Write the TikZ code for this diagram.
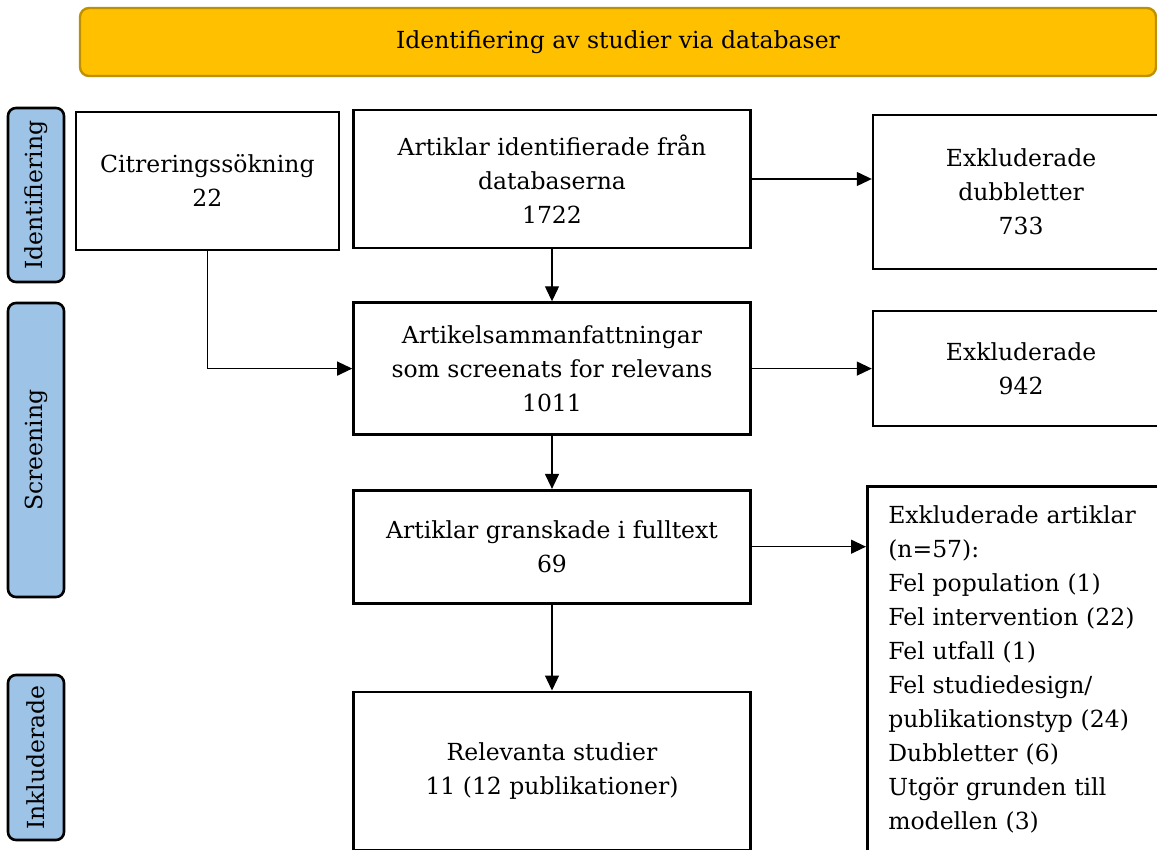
\documentclass[tikz,border=0pt]{standalone}
\usepackage{fontspec}
\setmainfont{DejaVu Serif}
\usetikzlibrary{positioning}
\usetikzlibrary{arrows.meta}
\definecolor{hdrfill}{HTML}{FFC000}
\definecolor{hdrline}{HTML}{BF9000}
\definecolor{phasefill}{HTML}{9DC3E6}

\begin{document}
\begin{tikzpicture}[->,>={Triangle[length=15pt,width=14pt]},x=1pt,y=-1pt,
                    line width=1.2pt,font=\fontsize{23.5}{34}\selectfont,
                    box/.style={draw,-,line width=2.6pt,minimum width=397pt,align=center,inner sep=0pt},
                    phase/.style={draw,-,line width=2.6pt,fill=phasefill,rounded corners=8pt,
                                  rotate=90,minimum height=56pt,inner sep=0pt}]
\useasboundingbox (0,0) rectangle (1157,850);
% header
\node[draw=hdrline,fill=hdrfill,line width=2.4pt,rounded corners=9pt,
      minimum width=1076pt,minimum height=68pt] (hdr) at (618,42)
      {Identifiering av studier via databaser};
% phases on the left
\node[phase,minimum width=174pt] (pid) at (36,195) {Identifiering};
\node[phase,minimum width=294pt] (pscr) at (36,450) {Screening};
\node[phase,minimum width=165pt] (pinc) at (36,757.5) {Inkluderade};
% main column
\node[box,minimum height=138pt] (art) at (552,179) {Artiklar identifierade från\\databaserna\\1722};
\node[box,minimum height=132pt,below=52pt of art] (abs) {Artikelsammanfattningar\\som screenats for relevans\\1011};
\node[box,minimum height=113pt,below=53pt of abs] (full) {Artiklar granskade i fulltext\\69};
\node[box,minimum height=158pt,below=86pt of full] (rel) {Relevanta studier\\11 (12 publikationer)};
\node[box,minimum width=263pt,minimum height=138pt,left=12pt of art,yshift=-2pt] (cit) {Citreringssökning\\22};
% excluded
\node[box,minimum width=296pt,minimum height=154pt,right=120pt of art,yshift=-13pt] (dup) {Exkluderade\\dubbletter\\733};
\node[box,minimum width=296pt,minimum height=115pt,right=120pt of abs] (exc) {Exkluderade\\942};
\node[box,align=left,anchor=north west,minimum width=310pt,text width=268pt,
      inner xsep=21pt,inner ysep=19pt] (exa) at (866,485)
     {Exkluderade artiklar\\(n=57):\\Fel population (1)\\Fel intervention (22)\\Fel utfall (1)\\
      Fel studiedesign/\\publikationstyp (24)\\Dubbletter (6)\\Utgör grunden till\\modellen (3)};
\path (art) edge (abs)
      (abs) edge (full)
            edge (exc)
      (full) edge (rel);
\draw (art.east) -- (art.east -| dup.west);
\draw (full.east) -- (full.east -| exa.west);
\draw (cit.south) |- (abs.west);
\end{tikzpicture}
\end{document}
